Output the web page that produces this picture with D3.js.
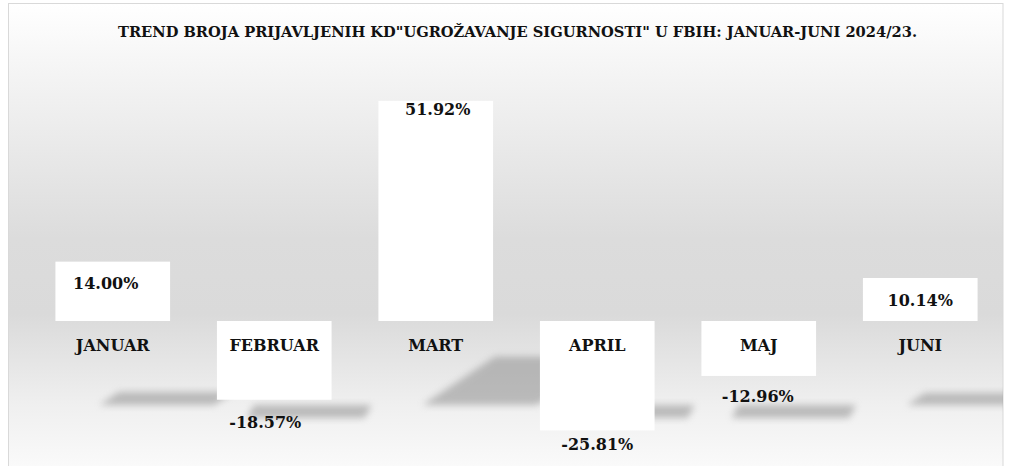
<!DOCTYPE html>
<html>
<head>
<meta charset="utf-8">
<title>Trend ugrožavanje sigurnosti</title>
<script src="https://cdn.jsdelivr.net/npm/d3@7"></script>
<style>
    body { margin: 0; background: #fff; }
    .lbl { font-family: "DejaVu Serif", serif; font-weight: bold; font-size: 16px; fill: #111; }
</style>
</head>
<body>
<script>
    // podaci
    var months = ["JANUAR", "FEBRUAR", "MART", "APRIL", "MAJ", "JUNI"];
    var trend = [14.00, -18.57, 51.92, -25.81, -12.96, 10.14];
    var title = 'TREND BROJA PRIJAVLJENIH KD"UGROŽAVANJE SIGURNOSTI" U FBIH: JANUAR-JUNI 2024/23.';

    var width = 1011, height = 466;

    // sitne korekcije položaja oznaka (kao u originalu)
    var labelDx = [-7, -9, 2, 0, -1, 0];
    var labelDy = [27, 28, 14, 20, 26, 28];

    var svg = d3.select("body").append("svg")
            .attr("width", width)
            .attr("height", height);

    var defs = svg.append("defs");

    var grad = defs.append("linearGradient")
            .attr("id", "bg")
            .attr("x1", 0).attr("y1", 0).attr("x2", 0).attr("y2", 1);
    [[0, "#ffffff"], [0.15, "#f4f4f4"], [0.5, "#dcdcdc"], [0.66, "#dadada"],
     [0.85, "#efefef"], [1, "#fbfbfb"]].forEach(function (s) {
        grad.append("stop").attr("offset", s[0]).attr("stop-color", s[1]);
    });

    defs.append("filter")
            .attr("id", "blur")
            .attr("x", "-20%").attr("y", "-60%").attr("width", "140%").attr("height", "220%")
            .append("feGaussianBlur").attr("stdDeviation", 3.5);

    defs.append("clipPath").attr("id", "frame")
            .append("rect").attr("x", 9).attr("y", 4).attr("width", 994).attr("height", 462);

    // okvir grafikona
    svg.append("rect")
            .attr("x", 8.5).attr("y", 3.5)
            .attr("width", 994.5).attr("height", 470)
            .attr("fill", "url(#bg)")
            .attr("stroke", "#d9d9d9");

    svg.append("text")
            .attr("class", "lbl")
            .attr("x", 517.5).attr("y", 37)
            .attr("text-anchor", "middle")
            .attr("textLength", 799)
            .attr("lengthAdjust", "spacingAndGlyphs")
            .style("font-size", "15.5px")
            .text(title);

    var x = d3.scaleBand()
            .domain(months)
            .range([32, 1001])
            .paddingInner(0.29)
            .paddingOuter(0.145);

    var y = d3.scaleLinear()
            .domain([-30, 60])
            .range([448.2, 66.6]);

    var data = months.map(function (m, i) { return {m: m, v: trend[i], i: i}; });
    var bw = x.bandwidth();

    // sjene na podu
    svg.append("g")
            .attr("clip-path", "url(#frame)")
            .selectAll("path")
            .data(data)
            .enter()
            .append("path")
            .attr("fill", "#8f8f8f")
            .attr("opacity", 0.55)
            .attr("filter", "url(#blur)")
            .attr("d", function (d) {
                var x0 = x(d.m);
                if (d.v >= 0) {
                    var h = y(0) - y(d.v);
                    var sh = Math.max(12, 0.22 * h), b = 405, sk = 1.5 * sh;
                    return "M" + (x0 + 44) + "," + b +
                            "L" + (x0 + 44 + bw) + "," + b +
                            "L" + (x0 + 44 + bw + sk) + "," + (b - sh) +
                            "L" + (x0 + 44 + sk) + "," + (b - sh) + "Z";
                }
                return "M" + (x0 + 30) + ",418" +
                        "L" + (x0 + 33 + bw) + ",418" +
                        "L" + (x0 + 40 + bw) + ",405" +
                        "L" + (x0 + 37) + ",405Z";
            });

    // stupci
    svg.append("g")
            .selectAll("rect")
            .data(data)
            .enter()
            .append("rect")
            .attr("x", function (d) { return x(d.m); })
            .attr("y", function (d) { return y(Math.max(0, d.v)); })
            .attr("width", bw)
            .attr("height", function (d) { return Math.abs(y(d.v) - y(0)); })
            .attr("fill", "#ffffff");

    // nazivi mjeseci
    svg.append("g")
            .selectAll("text")
            .data(data)
            .enter()
            .append("text")
            .attr("class", "lbl")
            .attr("text-anchor", "middle")
            .attr("x", function (d) { return x(d.m) + bw / 2; })
            .attr("y", y(0) + 30)
            .text(function (d) { return d.m; });

    // vrijednosti
    svg.append("g")
            .selectAll("text")
            .data(data)
            .enter()
            .append("text")
            .attr("class", "lbl")
            .attr("text-anchor", "middle")
            .attr("x", function (d) { return x(d.m) + bw / 2 + labelDx[d.i]; })
            .attr("y", function (d) { return y(d.v) + labelDy[d.i]; })
            .text(function (d) { return d.v.toFixed(2) + "%"; });
</script>
</body>
</html>
